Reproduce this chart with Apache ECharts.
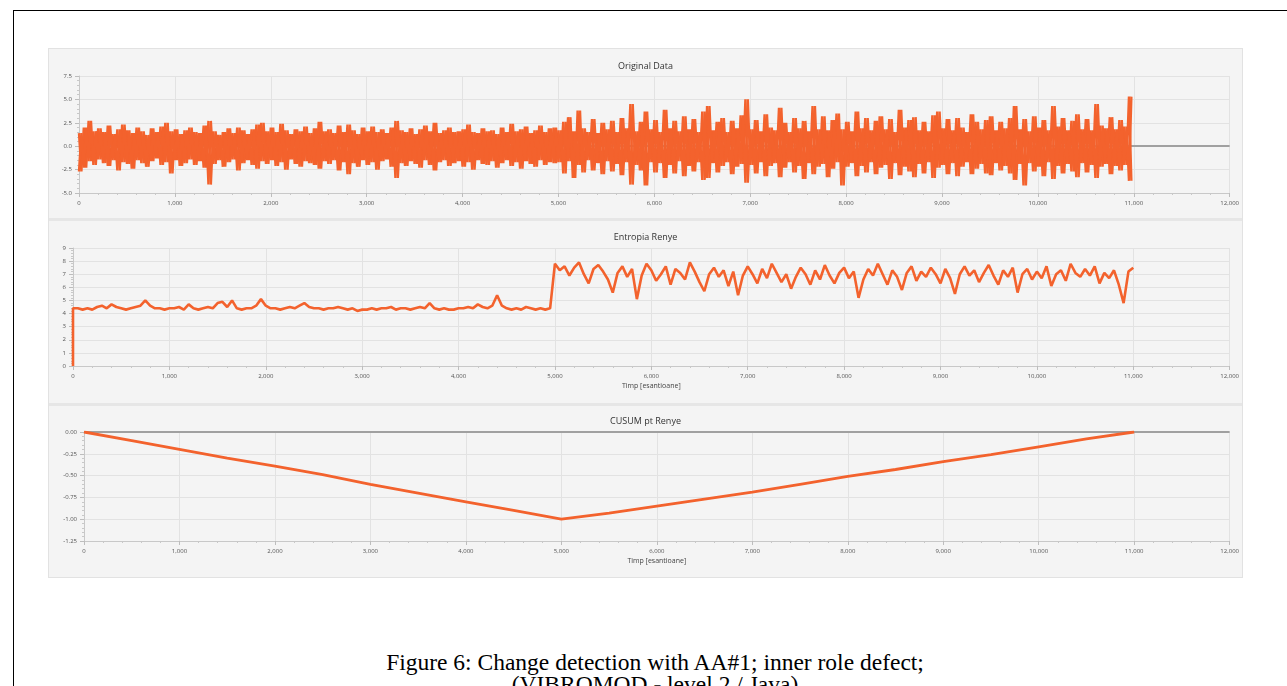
<!DOCTYPE html>
<html>
<head>
<meta charset="utf-8">
<script src="https://cdn.jsdelivr.net/npm/echarts@6/dist/echarts.min.js"></script>
<style>
  html, body { margin: 0; padding: 0; background: #fff; width: 1287px; height: 686px; overflow: hidden; }
  #frame { position: absolute; left: 13px; top: 10px; width: 1300px; height: 700px; border: 1px solid #000; box-sizing: border-box; }
  #chart { position: absolute; left: 48px; top: 48px; width: 1195px; height: 530px; background: #f4f4f4; border: 1px solid #e2e2e2; box-sizing: border-box; }
  #caption { position: absolute; left: 0; width: 1310px; top: 651px; text-align: center; font-family: "Liberation Serif", "Times New Roman", serif; font-size: 23.5px; line-height: 22px; color: #000; }
</style>
</head>
<body>
<div id="frame"></div>
<div id="chart"></div>
<div id="caption">Figure 6: Change detection with AA#1; inner role defect;<br>(VIBROMOD - level 2 / Java)</div>
<script>
// ---------------- Data ----------------
const xMax = 12000;

// Original Data: max / min per 50-sample bin, 0 .. 11000
const origStep = 50;
const origHigh = [
  1.4, 2.0, 2.7, 1.6, 1.9, 1.5, 2.2, 1.3, 1.8, 2.3,
  1.7, 1.4, 2.0, 1.6, 1.2, 1.9, 1.5, 2.1, 2.5, 1.6,
  1.8, 1.3, 1.7, 2.0, 1.5, 1.4, 2.2, 2.7, 1.6, 1.2,
  1.5, 1.9, 1.4, 2.0, 1.7, 1.3, 1.8, 2.3, 2.5, 1.6,
  2.0, 1.5, 2.4, 1.7, 1.3, 1.8, 1.6, 2.1, 1.4, 1.9,
  2.6, 1.6, 1.8, 1.4, 2.2, 1.5, 2.3, 1.7, 1.3, 2.0,
  1.6, 2.1, 1.5, 1.8, 1.4, 2.0, 2.7, 1.7, 1.5, 1.9,
  1.3, 1.8, 2.2, 1.6, 2.5, 1.4, 1.7, 2.0, 1.5, 1.6,
  1.8, 2.3, 1.5, 1.4, 1.9, 1.6, 1.7, 1.3, 2.0, 1.5,
  2.4, 1.6, 1.8, 2.1, 1.4, 1.7, 2.2, 1.5, 1.9, 2.0,
  1.7, 2.6, 3.1, 1.6, 3.8, 1.9, 1.5, 2.9, 1.4, 2.5,
  1.8, 2.7, 1.5, 3.0, 1.9, 4.5, 1.6, 2.6, 3.7, 1.8,
  2.8, 1.5, 3.9, 1.9, 2.7, 1.6, 3.2, 1.8, 2.9, 1.5,
  3.7, 4.3, 1.7, 2.6, 3.0, 1.5, 2.7, 1.9, 3.3, 5.0,
  1.8, 2.8, 1.6, 3.4, 2.0, 1.7, 4.1, 2.5, 1.5, 3.0,
  1.9, 2.7, 1.6, 4.3, 1.8, 3.2, 1.7, 2.8, 3.5, 1.8,
  2.6, 1.6, 3.7, 1.9, 3.0, 1.7, 2.7, 3.2, 1.8, 2.9,
  1.5, 3.9, 2.0, 2.8, 3.1, 1.7, 2.6, 1.6, 3.3, 3.7,
  1.9, 2.9, 1.7, 3.0, 2.0, 1.5, 3.4, 2.6, 1.8, 2.8,
  3.2, 1.7, 2.6, 1.9, 3.0, 4.3, 1.8, 2.9, 1.6, 3.2,
  2.0, 2.8, 1.7, 4.3, 2.1, 3.0, 1.7, 2.7, 3.4, 1.8,
  2.9, 1.7, 4.5, 2.2, 1.9, 3.1, 1.8, 2.8, 2.1, 5.3
];
const origLow = [
  -2.7, -2.3, -1.6, -2.0, -1.4, -1.8, -2.1, -1.5, -2.6, -1.7,
  -1.9, -2.4, -1.5, -1.8, -2.2, -1.6, -1.3, -2.0, -1.7, -2.9,
  -1.5, -2.1, -1.8, -1.4, -2.0, -1.6, -2.3, -4.1, -1.9, -1.5,
  -2.2, -1.7, -1.4, -2.6, -1.8, -1.5, -2.0, -2.4, -1.6, -1.9,
  -1.5, -2.1, -1.7, -2.5, -1.4, -1.9, -2.2, -1.6, -1.8, -2.0,
  -2.4, -1.6, -1.9, -1.5, -2.6, -1.7, -3.0, -1.8, -2.2, -1.5,
  -2.0, -1.7, -2.5, -1.6, -1.4, -2.2, -3.4, -1.8, -2.1, -1.6,
  -1.9, -2.3, -1.5, -2.0, -2.6, -1.7, -1.5, -2.1, -1.8, -1.6,
  -2.2, -1.7, -2.5, -1.5, -1.9, -2.0, -1.6, -2.3, -1.8, -1.5,
  -2.1, -1.7, -2.4, -1.6, -1.9, -2.2, -1.5, -2.0, -1.7, -1.8,
  -1.7, -2.9, -1.6, -3.4, -2.0, -2.8, -1.5, -2.6, -1.8, -3.0,
  -1.6, -2.7, -1.9, -3.1, -1.7, -4.1, -2.0, -2.6, -4.2, -1.7,
  -2.8, -1.8, -3.4, -2.0, -2.9, -1.6, -3.2, -2.1, -2.7, -1.7,
  -3.6, -3.4, -1.8, -2.8, -2.1, -1.7, -3.0, -2.2, -1.9, -3.9,
  -2.0, -2.9, -1.7, -3.2, -2.1, -1.8, -3.3, -2.3, -1.7, -2.8,
  -2.1, -3.5, -1.8, -3.0, -2.2, -1.9, -3.3, -2.4, -1.7, -4.2,
  -2.2, -1.8, -3.2, -2.1, -2.8, -1.7, -3.0, -2.3, -2.0, -3.5,
  -1.8, -3.1, -2.2, -2.7, -3.3, -1.9, -2.9, -1.7, -3.4, -2.3,
  -2.0, -3.0, -1.8, -3.2, -2.2, -1.7, -3.0, -2.4, -1.9, -2.9,
  -3.1, -1.8, -2.6, -2.1, -2.9, -3.6, -1.9, -4.2, -1.8, -2.7,
  -2.2, -3.2, -1.7, -3.5, -2.1, -2.9, -1.9, -2.7, -3.3, -1.8,
  -2.8, -2.0, -3.4, -2.2, -1.9, -3.0, -2.1, -2.6, -2.0, -3.7
];

// Entropia Renye: starts at 0 at sample 0, then one value per 50 samples, 50 .. 11000
const entropyStart = 0.0;
const entropyStep = 50;
const entropy = [
  4.4, 4.3, 4.4, 4.3, 4.5, 4.6, 4.4, 4.7, 4.5, 4.4,
  4.3, 4.4, 4.5, 4.6, 5.0, 4.6, 4.4, 4.4, 4.3, 4.4,
  4.4, 4.5, 4.3, 4.7, 4.4, 4.3, 4.4, 4.5, 4.4, 4.8,
  4.9, 4.5, 5.0, 4.4, 4.3, 4.4, 4.4, 4.6, 5.1, 4.6,
  4.4, 4.4, 4.3, 4.4, 4.5, 4.4, 4.6, 4.8, 4.5, 4.4,
  4.4, 4.3, 4.4, 4.4, 4.5, 4.4, 4.3, 4.4, 4.2, 4.3,
  4.3, 4.4, 4.3, 4.4, 4.4, 4.5, 4.3, 4.4, 4.4, 4.3,
  4.4, 4.5, 4.4, 4.8, 4.4, 4.3, 4.4, 4.3, 4.3, 4.4,
  4.4, 4.5, 4.4, 4.7, 4.5, 4.4, 4.6, 5.4, 4.6, 4.4,
  4.3, 4.4, 4.3, 4.5, 4.4, 4.3, 4.4, 4.3, 4.4,
  7.8, 7.3, 7.6, 6.9, 7.5, 7.9, 7.0, 6.3, 7.4, 7.7,
  7.2, 6.6, 5.6, 7.1, 7.6, 6.8, 7.4, 5.1, 6.9, 7.8,
  7.3, 6.5, 7.0, 7.6, 6.2, 7.4, 7.1, 6.6, 7.9, 7.2,
  6.4, 5.7, 7.0, 7.5, 6.8, 7.3, 6.1, 7.2, 5.4, 6.9,
  7.6, 7.0, 6.3, 7.4, 6.7, 7.8, 7.1, 6.4, 7.0, 5.9,
  6.8, 7.5, 7.0, 6.2, 7.3, 6.6, 7.7, 6.9, 6.3, 7.1,
  7.5, 6.7, 7.2, 5.2, 6.6, 7.4, 6.9, 7.8, 7.0, 6.2,
  7.3, 6.8, 5.8, 7.1, 7.6, 6.5, 7.2, 6.8, 7.5, 7.0,
  6.3, 7.4, 6.7, 5.5, 7.0, 7.6, 6.9, 7.3, 6.4, 7.1,
  7.7, 6.9, 6.2, 7.3, 6.8, 7.5, 5.6, 7.0, 7.4, 6.6,
  7.2, 6.7, 7.6, 6.1, 7.0, 7.3, 6.5, 7.8, 7.1, 6.8,
  7.4, 6.9, 7.6, 6.3, 7.1, 6.7, 7.3, 6.2, 4.8, 7.2,
  7.5
];

// CUSUM pt Renye: one value per 500 samples, 0 .. 11000
const cusumStep = 500;
const cusum = [
  0.00, -0.10, -0.20, -0.30, -0.39, -0.49, -0.60, -0.70, -0.80, -0.90, -1.00,
  -0.93, -0.85, -0.77, -0.69, -0.60, -0.51, -0.43, -0.34, -0.26, -0.17, -0.08, 0.00
];

const panelTitles = ['Original Data', 'Entropia Renye', 'CUSUM pt Renye'];
const xAxisName = 'Timp [esantioane]';

// ---------------- Chart ----------------
const orange = '#f3622d';
const font = '"Open Sans", "Noto Sans", sans-serif';

const chart = echarts.init(document.getElementById('chart'));

// each 50-sample bin holds both its max and its min; tracing the bins
// max->min and min->max fills the envelope like the dense raw signal does
const origDown = [], origUp = [];
origHigh.forEach((v, i) => {
  const x0 = i * origStep, x1 = i * origStep + origStep / 2;
  origDown.push([x0, v], [x1, origLow[i]]);
  origUp.push([x0, origLow[i]], [x1, v]);
});
// the first sample sits at 0, the curve jumps straight up from it
const entropyData = [[0, entropyStart], [0, entropy[0]]]
  .concat(entropy.map((v, i) => [(i + 1) * entropyStep, v]));
const cusumData = cusum.map((v, i) => [i * cusumStep, v]);

function xAxis(gridIndex, withName) {
  return {
    type: 'value', gridIndex: gridIndex, min: 0, max: xMax, interval: 1000,
    name: withName ? xAxisName : '', nameLocation: 'middle', nameGap: 16,
    nameTextStyle: { fontSize: 7, color: '#444', fontFamily: font },
    axisLine: { show: true, onZero: false, lineStyle: { color: '#c8c8c8' } },
    axisTick: { show: true, length: 4, lineStyle: { color: '#bdbdbd' } },
    minorTick: { show: true, splitNumber: 5, length: 2, lineStyle: { color: '#c8c8c8' } },
    axisLabel: { fontSize: 6, color: '#555', fontFamily: font, margin: 7,
      formatter: v => v.toLocaleString('en-US') },
    splitLine: { show: true, lineStyle: { color: '#e2e2e2' } }
  };
}

function yAxis(gridIndex, min, max, interval, digits) {
  return {
    type: 'value', gridIndex: gridIndex, min: min, max: max, interval: interval,
    axisLine: { show: true, lineStyle: { color: '#c8c8c8' } },
    axisTick: { show: true, length: 4, lineStyle: { color: '#bdbdbd' } },
    minorTick: { show: true, splitNumber: 5, length: 2, lineStyle: { color: '#c8c8c8' } },
    axisLabel: { fontSize: 6, color: '#555', fontFamily: font, margin: 7,
      formatter: v => v.toFixed(digits) },
    splitLine: { show: true, lineStyle: { color: '#e2e2e2' } }
  };
}

// JavaFX style horizontal zero line, kept under the data
function zeroLine(i) {
  return {
    type: 'line', xAxisIndex: i, yAxisIndex: i, data: [], z: 1, silent: true,
    markLine: { z: 1, symbol: 'none', silent: true, label: { show: false },
      lineStyle: { color: '#a0a0a0', width: 2, type: 'solid' }, data: [{ yAxis: 0 }] }
  };
}

function origSeries(data) {
  return { name: 'Original Data', type: 'line', xAxisIndex: 0, yAxisIndex: 0, z: 3,
    showSymbol: false, data: data, lineStyle: { color: orange, width: 2.4 } };
}

chart.setOption({
  backgroundColor: '#f4f4f4',
  animation: false,
  title: panelTitles.map((t, i) => ({
    text: t, left: 'center', top: [8, 179, 363][i],
    textStyle: { fontSize: 9, fontWeight: 'normal', color: '#333', fontFamily: font }
  })),
  graphic: [
    { type: 'rect', shape: { x: 0, y: 169, width: 1195, height: 3 }, style: { fill: '#e6e6e6' } },
    { type: 'rect', shape: { x: 0, y: 354, width: 1195, height: 3 }, style: { fill: '#e6e6e6' } }
  ],
  grid: [
    { left: 30, right: 10, top: 27, height: 117 },
    { left: 24, right: 10, top: 199, height: 118 },
    { left: 35, right: 10, top: 383, height: 109 }
  ],
  xAxis: [xAxis(0, false), xAxis(1, true), xAxis(2, true)],
  yAxis: [
    yAxis(0, -5, 7.5, 2.5, 1),
    yAxis(1, 0, 9, 1, 0),
    yAxis(2, -1.25, 0, 0.25, 2)
  ],
  series: [
    zeroLine(0),
    zeroLine(2),
    origSeries(origDown),
    origSeries(origUp),
    { name: 'Entropia Renye', type: 'line', xAxisIndex: 1, yAxisIndex: 1, z: 3,
      showSymbol: false, data: entropyData, lineStyle: { color: orange, width: 2.6 } },
    { name: 'CUSUM pt Renye', type: 'line', xAxisIndex: 2, yAxisIndex: 2, z: 3,
      showSymbol: false, data: cusumData, lineStyle: { color: orange, width: 2.8 } }
  ]
});
</script>
</body>
</html>
